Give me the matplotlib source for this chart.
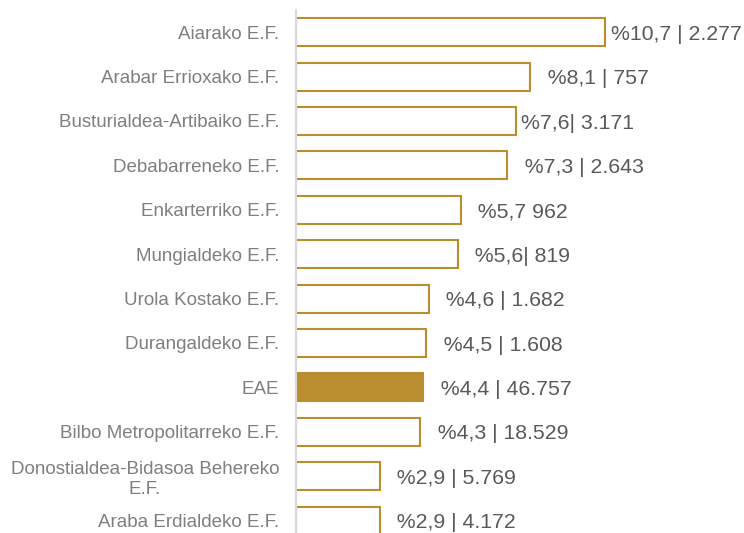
import matplotlib
matplotlib.use("Agg")
import matplotlib.pyplot as plt

categories = ["Aiarako E.F.", "Arabar Errioxako E.F.", "Busturialdea-Artibaiko E.F.",
              "Debabarreneko E.F.", "Enkarterriko E.F.", "Mungialdeko E.F.",
              "Urola Kostako E.F.", "Durangaldeko E.F.", "EAE",
              "Bilbo Metropolitarreko E.F.", "Donostialdea-Bidasoa Behereko\nE.F.",
              "Araba Erdialdeko E.F."]
values = [10.7, 8.1, 7.6, 7.3, 5.7, 5.6, 4.6, 4.5, 4.4, 4.3, 2.9, 2.9]
labels = ["%10,7 | 2.277", "  %8,1 | 757", "%7,6| 3.171", "  %7,3 | 2.643",
          "  %5,7 962", "  %5,6| 819", "  %4,6 | 1.682", "  %4,5 | 1.608",
          "  %4,4 | 46.757", "  %4,3 | 18.529", "  %2,9 | 5.769", "  %2,9 | 4.172"]
highlight = "EAE"

gold = "#BA8D2F"
plt.rcParams['font.family'] = ['Liberation Sans', 'DejaVu Sans']

fig = plt.figure(figsize=(7.44, 5.33), dpi=100)
ax = fig.add_axes([296/744, 0.0, 1 - 296/744, 1 - 10/533])

ypos = list(range(len(categories)))
for y, v, c in zip(ypos, values, categories):
    if c == highlight:
        ax.barh(y, v, height=0.63, color=gold, edgecolor=gold, linewidth=1.5)
    else:
        ax.barh(y, v, height=0.63, color="white", edgecolor=gold, linewidth=1.5)

for y, v, t in zip(ypos, values, labels):
    ax.annotate(t, xy=(v, y), xytext=(4, -1.5), textcoords="offset points",
                ha="left", va="center", fontsize=15.3, color="#595959")

ax.set_yticks(ypos)
ax.set_yticklabels(categories, fontsize=13.5, color="#7F7F7F")
for lbl in ax.get_yticklabels():
    lbl.set_multialignment("center")
ax.tick_params(axis="y", length=0, pad=12)
ax.set_xticks([])
ax.set_xlim(0, (744 - 296) / 28.9)
ax.set_ylim(11.28, -0.5)
for s in ["top", "right", "bottom"]:
    ax.spines[s].set_visible(False)
ax.spines["left"].set_color("#D9D9D9")
ax.spines["left"].set_linewidth(1.5)

fig.savefig("out.png", dpi=100)
